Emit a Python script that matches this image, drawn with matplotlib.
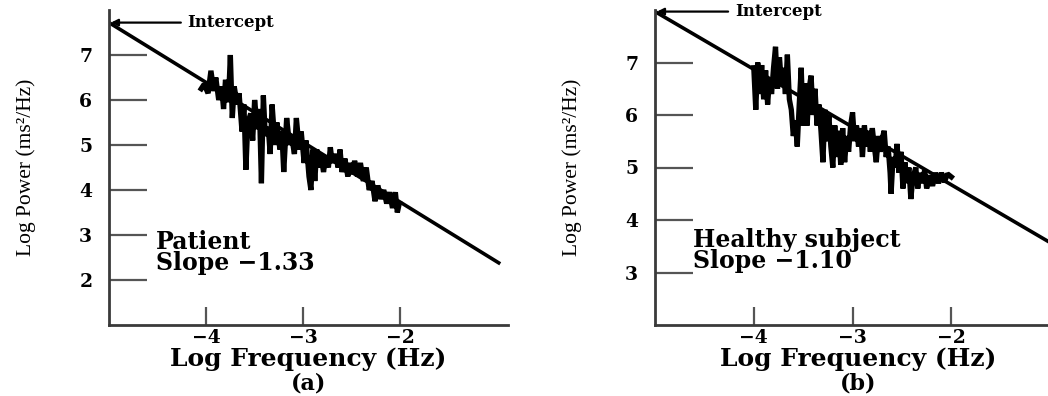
import numpy as np
import matplotlib.pyplot as plt

# log frequency / log power samples for the patient spectrum
patient_freq = [-4.05, -4.02, -3.98, -3.95, -3.92, -3.90, -3.87, -3.84, -3.82, -3.80,
                -3.77, -3.75, -3.73, -3.71, -3.68, -3.66, -3.63, -3.61, -3.59, -3.57,
                -3.54, -3.52, -3.50, -3.47, -3.45, -3.43, -3.41, -3.39, -3.36, -3.34,
                -3.32, -3.29, -3.27, -3.24, -3.22, -3.20, -3.17, -3.14, -3.12, -3.09,
                -3.07, -3.04, -3.02, -2.99, -2.97, -2.94, -2.92, -2.90, -2.88, -2.86,
                -2.84, -2.82, -2.79, -2.77, -2.74, -2.72, -2.70, -2.67, -2.64, -2.62,
                -2.60, -2.57, -2.54, -2.52, -2.49, -2.47, -2.44, -2.41, -2.38, -2.35,
                -2.32, -2.29, -2.26, -2.23, -2.20, -2.17, -2.14, -2.11, -2.08, -2.05,
                -2.03, -2.01]
patient_power = [6.25, 6.35, 6.15, 6.65, 6.20, 6.50, 6.00, 6.30, 5.80, 6.45,
                 5.95, 7.00, 5.60, 6.30, 5.90, 6.15, 5.30, 5.90, 4.45, 5.50,
                 5.70, 5.10, 6.00, 5.35, 5.80, 4.15, 6.10, 5.20, 5.40, 4.80,
                 5.90, 5.00, 5.50, 4.90, 5.30, 4.40, 5.60, 5.00, 5.20, 4.80,
                 5.60, 4.90, 5.30, 4.60, 5.10, 4.30, 4.00, 4.90, 4.20, 4.90,
                 4.50, 4.80, 4.40, 4.75, 4.50, 4.95, 4.60, 4.80, 4.50, 4.90,
                 4.40, 4.70, 4.30, 4.60, 4.35, 4.65, 4.30, 4.60, 4.20, 4.50,
                 4.00, 4.20, 3.75, 4.10, 3.80, 4.00, 3.70, 3.95, 3.60, 3.95,
                 3.50, 3.70]

# log frequency / log power samples for the healthy subject spectrum
healthy_freq = [-4.00, -3.98, -3.96, -3.94, -3.92, -3.90, -3.88, -3.86, -3.84, -3.82,
                -3.80, -3.78, -3.76, -3.74, -3.72, -3.70, -3.68, -3.66, -3.64, -3.62,
                -3.60, -3.58, -3.56, -3.54, -3.52, -3.50, -3.48, -3.46, -3.44, -3.42,
                -3.40, -3.38, -3.36, -3.34, -3.32, -3.30, -3.28, -3.26, -3.24, -3.22,
                -3.20, -3.18, -3.16, -3.14, -3.12, -3.10, -3.08, -3.06, -3.04, -3.02,
                -3.00, -2.98, -2.96, -2.94, -2.92, -2.90, -2.88, -2.86, -2.84, -2.82,
                -2.80, -2.78, -2.76, -2.74, -2.72, -2.70, -2.68, -2.66, -2.64, -2.62,
                -2.61, -2.59, -2.57, -2.55, -2.53, -2.51, -2.49, -2.47, -2.45, -2.43,
                -2.41, -2.39, -2.36, -2.34, -2.32, -2.30, -2.27, -2.25, -2.22, -2.19,
                -2.16, -2.13, -2.10, -2.07, -2.04, -2.00]
healthy_power = [6.90, 6.10, 7.00, 6.40, 6.95, 6.30, 6.85, 6.20, 6.70, 6.40,
                 6.90, 7.30, 6.50, 7.10, 6.60, 6.90, 6.40, 7.15, 6.30, 6.10,
                 5.60, 5.90, 5.40, 6.20, 6.90, 5.80, 6.60, 5.80, 6.50, 6.75,
                 6.00, 6.50, 5.80, 6.20, 5.70, 5.10, 6.10, 5.50, 6.00, 5.40,
                 5.00, 5.80, 5.20, 5.70, 5.05, 5.75, 5.10, 5.60, 5.30, 5.80,
                 6.05, 5.50, 5.80, 5.40, 5.75, 5.20, 5.80, 5.40, 5.70, 5.30,
                 5.75, 5.40, 5.10, 5.60, 5.30, 5.55, 5.70, 5.20, 5.40, 4.90,
                 4.50, 5.20, 5.00, 5.45, 4.90, 5.30, 4.60, 5.10, 4.70, 5.00,
                 4.40, 4.80, 5.00, 4.60, 4.90, 4.70, 4.95, 4.60, 4.85, 4.65,
                 4.90, 4.70, 4.90, 4.72, 4.88, 4.82]

# fitted regression lines: intercept at log f = -5, slope
patient_fit = (7.72, -1.33)
healthy_fit = (7.97, -1.10)

x_ticks = [-4, -3, -2]

SERIF = ['DejaVu Serif']
NARROW = ['Liberation Serif']

'''one spectrum panel'''
def draw_panel(ax, freq, power, fit, ylim, y_ticks, name, slope_text, letter, text_xy):
    intercept, slope = fit
    xs = np.array([-5.0, -0.97])
    ax.plot(xs, intercept + slope * (xs + 5.0), color='black', lw=2.6, solid_capstyle='butt')
    ax.plot(freq, power, color='black', lw=3.8, solid_joinstyle='bevel')

    ax.set_xlim(-5, -0.89)
    ax.set_ylim(*ylim)
    for side in ['top', 'right']:
        ax.spines[side].set_visible(False)
    for side in ['left', 'bottom']:
        ax.spines[side].set_linewidth(2.0)
        ax.spines[side].set_color('#3a3a3a')

    ax.set_xticks(x_ticks)
    ax.set_yticks(y_ticks)
    ax.set_xticklabels(['\u2212%d' % abs(t) for t in x_ticks], family=SERIF, fontweight='bold', fontsize=13.5)
    ax.set_yticklabels([str(t) for t in y_ticks], family=SERIF, fontweight='bold', fontsize=13.5)
    ax.tick_params(axis='y', direction='in', length=27, width=1.6, color='#555555', pad=12)
    ax.tick_params(axis='x', direction='in', length=13, width=1.6, color='#555555', pad=3)

    ax.set_xlabel('Log Frequency (Hz)', family=SERIF, fontweight='bold', fontsize=18, labelpad=0)
    ax.set_ylabel('Log Power (ms\u00b2/Hz)', family=NARROW, fontsize=15.5, labelpad=31)
    ax.text(0.5, -0.186, letter, transform=ax.transAxes, ha='center', va='center',
            family=SERIF, fontweight='bold', fontsize=16)

    # intercept arrow pointing at the y axis
    ax.annotate('', xy=(-4.98, intercept), xytext=(-4.26, intercept),
                arrowprops=dict(arrowstyle='-|>', color='black', lw=1.6, mutation_scale=10,
                                shrinkA=0, shrinkB=0))
    ax.text(-4.19, intercept, 'Intercept', ha='left', va='center',
            family=SERIF, fontweight='bold', fontsize=12)

    ax.text(text_xy[0], text_xy[1], name + '\n' + slope_text, ha='left', va='center',
            family=SERIF, fontweight='bold', fontsize=17, linespacing=0.88)


fig = plt.figure(figsize=(10.48, 3.96), dpi=100)
ax_a = fig.add_axes([109 / 1048, 71 / 396, 399 / 1048, 315 / 396])
ax_b = fig.add_axes([655 / 1048, 71 / 396, 406 / 1048, 315 / 396])

draw_panel(ax_a, patient_freq, patient_power, patient_fit, (1, 8), [2, 3, 4, 5, 6, 7],
           'Patient', 'Slope \u22121.33', '(a)', (-4.52, 2.61))
draw_panel(ax_b, healthy_freq, healthy_power, healthy_fit, (2, 8), [3, 4, 5, 6, 7],
           'Healthy subject', 'Slope \u22121.10', '(b)', (-4.62, 3.42))

fig.savefig('out.png', dpi=100, facecolor='white')
